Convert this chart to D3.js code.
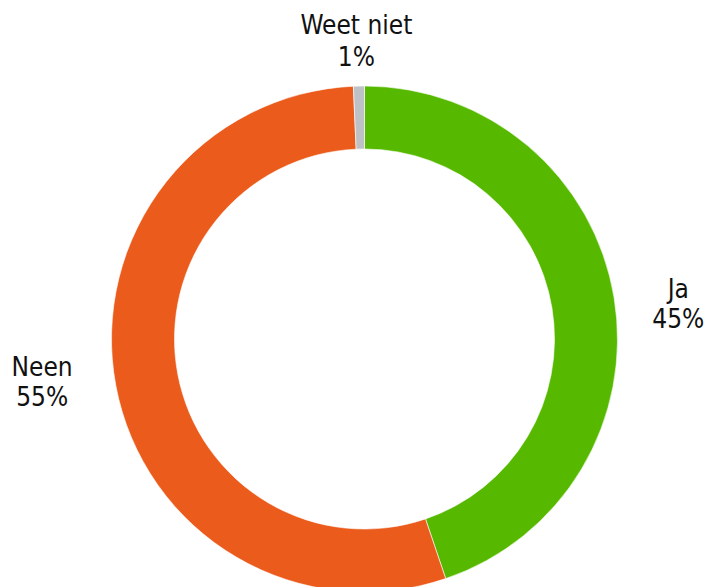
<!DOCTYPE html>
<html><head><meta charset="utf-8">
<script src="https://cdn.jsdelivr.net/npm/d3@7"></script>
<style>html,body{margin:0;padding:0;background:#fff;overflow:hidden}svg{display:block}</style>
</head><body>
<svg id="chart" width="709" height="587"></svg>
<script>
const categories = ["Ja", "Neen", "Weet niet"];
const values = [44.8, 54.5, 0.7];
const labels = ["45%", "55%", "1%"];
const colors = ["#56b900", "#eb5b1c", "#bec1c5"];

const W = 709, H = 587;
const cx = 364.5, cy = 339, rOuter = 253, rInner = 190;
const svg = d3.select("#chart");
const g = svg.append("g").attr("transform", `translate(${cx},${cy})`);

const pie = d3.pie().sort(null).value(d => d.v);
const data = categories.map((c, i) => ({c, v: values[i], l: labels[i], col: colors[i]}));
const arcs = pie(data);
const arc = d3.arc().innerRadius(rInner).outerRadius(rOuter);

g.selectAll("path").data(arcs).enter().append("path")
  .attr("d", arc)
  .attr("fill", d => d.data.col)
  .attr("stroke", "#fff")
  .attr("stroke-width", 0.6);

const font = "'DejaVu Sans Condensed', 'DejaVu Sans', sans-serif";
arcs.forEach(d => {
  const mid = (d.startAngle + d.endAngle) / 2;
  let x, y1, gap = 31;
  if (d.data.c === "Weet niet") {
    x = Math.sin(mid) * 370;
    y1 = 34 - cy;
    gap = 32;
  } else if (d.data.c === "Ja") {
    x = Math.sin(mid) * 318;
    y1 = 298.3 - cy;
    gap = 30;
  } else {
    x = Math.sin(mid) * 328;
    y1 = 376 - cy;
    gap = 30;
  }
  const t = g.append("text")
    .attr("text-anchor", "middle")
    .attr("font-family", font)
    .attr("font-size", 26)
    .attr("fill", "#111");
  t.append("tspan").attr("x", x).attr("y", y1).text(d.data.c);
  t.append("tspan").attr("x", x).attr("y", y1 + gap).text(d.data.l);
});
</script>
</body></html>
